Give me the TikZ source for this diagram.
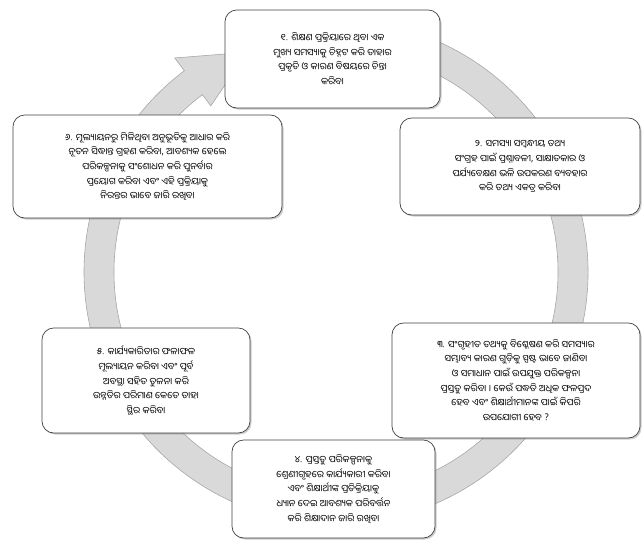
\documentclass[tikz,border=0pt]{standalone}
\usepackage{fontspec}
\newfontfamily\oriya[Script=Oriya]{Noto Sans Oriya UI}
\usetikzlibrary{shadows}
\begin{document}
\begin{tikzpicture}[x=0.03cm, y=0.03cm,
    stagebox/.style ={rounded corners=10pt, draw=black!75, line width=0.6pt, fill=white, align=center, inner sep=2pt,
      font=\oriya\fontsize{8}{12.5}\selectfont,
      drop shadow={shadow xshift=1.3pt, shadow yshift=-1.3pt, fill=black!40}},
    ring/.style ={fill=gray!30, draw=gray!70, line width=0.5pt}]
   \useasboundingbox (0,0) rectangle (642,541);
   \coordinate (centre) at (336,269);
   % circular arrow behind the boxes
   \filldraw[ring] ([shift={(100:252)}]centre) arc[start angle=100, end angle=-233, radius=252]
      -- ([shift={(-233:268)}]centre) -- ([shift={(-248:237)}]centre) -- ([shift={(-233:208)}]centre)
      -- ([shift={(-233:222)}]centre) arc[start angle=-233, end angle=100, radius=222] -- cycle;
   % stages
   \node[stagebox, minimum width=6.45cm, minimum height=2.94cm] (S1) at (332.5,482) {%
      ୧. ଶିକ୍ଷଣ ପ୍ରକ୍ରିୟାରେ ଥିବା ଏକ\\ ମୁଖ୍ୟ ସମସ୍ୟାକୁ ଚିହ୍ନଟ କରି ତାହାର\\ ପ୍ରକୃତି ଓ କାରଣ ବିଷୟରେ ଚିନ୍ତା\\ କରିବା};
   \node[stagebox, minimum width=7.2cm, minimum height=2.91cm] (S2) at (520,374.5) {%
      ୨. ସମସ୍ୟା ସମ୍ବନ୍ଧୀୟ ତଥ୍ୟ\\ ସଂଗ୍ରହ ପାଇଁ ପ୍ରଶ୍ନାବଳୀ, ସାକ୍ଷାତକାର ଓ\\ ପର୍ଯ୍ୟବେକ୍ଷଣ ଭଳି ଉପକରଣ ବ୍ୟବହାର\\ କରି ତଥ୍ୟ ଏକତ୍ର କରିବା};
   \node[stagebox, minimum width=7.44cm, minimum height=3.45cm] (S3) at (516,160.5) {%
      ୩. ସଂଗୃହୀତ ତଥ୍ୟକୁ ବିଶ୍ଳେଷଣ କରି ସମସ୍ୟାର\\ ସମ୍ଭାବ୍ୟ କାରଣ ଗୁଡ଼ିକୁ ସ୍ପଷ୍ଟ ଭାବେ ଜାଣିବା\\ ଓ ସମାଧାନ ପାଇଁ ଉପଯୁକ୍ତ ପରିକଳ୍ପନା\\ ପ୍ରସ୍ତୁତ କରିବା । କେଉଁ ପଦ୍ଧତି ଅଧିକ ଫଳପ୍ରଦ\\ ହେବ ଏବଂ ଶିକ୍ଷାର୍ଥୀମାନଙ୍କ ପାଇଁ କିପରି\\ ଉପଯୋଗୀ ହେବ ?};
   \node[stagebox, minimum width=6.09cm, minimum height=2.94cm] (S4) at (333.5,52) {%
      ୪. ପ୍ରସ୍ତୁତ ପରିକଳ୍ପନାକୁ\\ ଶ୍ରେଣୀଗୃହରେ କାର୍ଯ୍ୟକାରୀ କରିବା\\ ଏବଂ ଶିକ୍ଷାର୍ଥୀଙ୍କ ପ୍ରତିକ୍ରିୟାକୁ\\ ଧ୍ୟାନ ଦେଇ ଆବଶ୍ୟକ ପରିବର୍ତ୍ତନ\\ କରି ଶିକ୍ଷାଦାନ ଜାରି ରଖିବା};
   \node[stagebox, minimum width=6.24cm, minimum height=3.15cm] (S5) at (146,160.5) {%
      ୫. କାର୍ଯ୍ୟକାରିତାର ଫଳାଫଳ\\ ମୂଲ୍ୟାୟନ କରିବା ଏବଂ ପୂର୍ବ\\ ଅବସ୍ଥା ସହିତ ତୁଳନା କରି\\ ଉନ୍ନତିର ପରିମାଣ କେତେ ତାହା\\ ସ୍ଥିର କରିବା};
   \node[stagebox, minimum width=8.07cm, minimum height=3.09cm] (S6) at (147.5,374.5) {%
      ୬. ମୂଲ୍ୟାୟନରୁ ମିଳିଥିବା ଅନୁଭୂତିକୁ ଆଧାର କରି\\ ନୂତନ ସିଦ୍ଧାନ୍ତ ଗ୍ରହଣ କରିବା, ଆବଶ୍ୟକ ହେଲେ\\ ପରିକଳ୍ପନାକୁ ସଂଶୋଧନ କରି ପୁନର୍ବାର\\ ପ୍ରୟୋଗ କରିବା ଏବଂ ଏହି ପ୍ରକ୍ରିୟାକୁ\\ ନିରନ୍ତର ଭାବେ ଜାରି ରଖିବା};
\end{tikzpicture}
\end{document}
